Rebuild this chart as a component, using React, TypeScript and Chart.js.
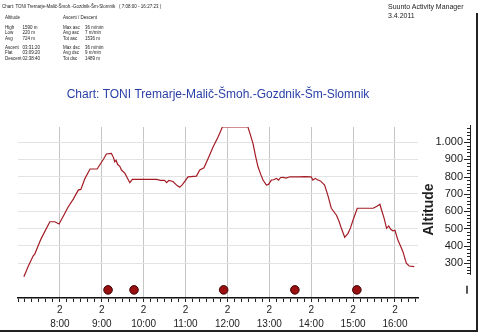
import React, { useEffect, useRef } from 'react';
import { Chart, registerables } from 'chart.js';

Chart.register(...registerables);

// ---- data (time in decimal hours, altitude in metres) ----
const TIME_H = [
  7.14, 7.25, 7.36, 7.40, 7.55, 7.76, 7.88, 7.98, 8.10, 8.20, 8.32, 8.44, 8.50, 8.60, 8.72, 8.89,
  9.00, 9.05, 9.11, 9.23, 9.28, 9.31, 9.34, 9.38, 9.43, 9.47, 9.55, 9.67, 9.73, 10.00, 10.31,
  10.40, 10.50, 10.55, 10.60, 10.70, 10.80, 10.86, 10.92, 11.00, 11.06, 11.26, 11.34, 11.44,
  11.55, 11.66, 11.78, 11.88, 11.95, 12.05, 12.15, 12.22, 12.32, 12.42, 12.49, 12.55, 12.61,
  12.67, 12.73, 12.80, 12.85, 12.93, 12.98, 13.05, 13.10, 13.17, 13.22, 13.27, 13.33, 13.40,
  13.49, 13.70, 13.85, 14.00, 14.04, 14.10, 14.15, 14.22, 14.32, 14.40, 14.48, 14.60, 14.66,
  14.72, 14.80, 14.88, 14.94, 15.00, 15.10, 15.30, 15.48, 15.58, 15.64, 15.68, 15.74, 15.80,
  15.85, 15.90, 15.95, 16.00, 16.07, 16.13, 16.19, 16.27, 16.34, 16.46,
];
const ALTITUDE_M = [
  221, 285, 341, 352, 440, 539, 539, 526, 580, 626, 670, 722, 726, 790, 844, 844,
  886, 905, 931, 935, 910, 886, 895, 870, 860, 838, 820, 765, 784, 784, 784,
  778, 778, 765, 778, 772, 748, 738, 752, 778, 799, 803, 838, 851,
  910, 973, 1030, 1088, 1200, 1380, 1530, 1590, 1450, 1250, 1088, 1040, 992,
  920, 857, 810, 780, 751, 755, 780, 782, 790, 780, 795, 796, 792,
  799, 799, 800, 799, 780, 790, 782, 775, 751, 690, 617, 578, 545,
  501, 449, 472, 505, 549, 617, 617, 617, 630, 640, 607, 560, 501,
  515, 495, 487, 490, 433, 400, 366, 299, 283, 279,
];
const LAP_MARKER_TIMES = [9.15, 9.77, 11.91, 13.61, 15.09];
const HOUR_TICKS = [8, 9, 10, 11, 12, 13, 14, 15, 16];
const DAY_LABEL = '2';
const ALT_TICKS = [300, 400, 500, 600, 700, 800, 900, 1000];

const TITLE = 'Chart: TONI Tremarje-Malič-Šmoh.-Gozdnik-Šm-Slomnik';
const TIME_RANGE = '( 7:08:00 - 16:27:23 )';
const APP_NAME = 'Suunto Activity Manager';
const DATE_TEXT = '3.4.2011';
const ALT_STATS = [['High', '1590 m'], ['Low', '220 m'], ['Avg', '724 m']];
const TIME_STATS = [['Ascent', '03:31:20'], ['Flat', '03:09:20'], ['Descent', '02:38:40']];
const ASC_STATS = [['Max asc', '36 m/min'], ['Avg asc', '7 m/min'], ['Tot asc', '1536 m']];
const DSC_STATS = [['Max dsc', '36 m/min'], ['Avg dsc', '9 m/min'], ['Tot dsc', '1489 m']];

// ---- view settings ----
const X_MIN = 7;
const X_MAX = 16.55;
const Y_MIN = 98;
const Y_MAX = 1087;
const MARKER_LEVEL = 145;
const FONT = '"Liberation Sans", Arial, Helvetica, sans-serif';
const LINE_RED = '#a31c25';

const fmtAlt = (v: number) =>
  v >= 1000 ? `${Math.floor(v / 1000)}.${String(v % 1000).padStart(3, '0')}` : String(v);
const isHour = (v: number) => Math.abs(v - Math.round(v)) < 1e-6 && HOUR_TICKS.includes(Math.round(v));

const rightAxisPlugin = {
  id: 'rightAltAxis',
  afterDraw(chart: any) {
    const { ctx, scales } = chart;
    const y = scales.y;
    const axisX = 470;
    ctx.save();
    ctx.strokeStyle = '#222';
    ctx.lineWidth = 1;
    ctx.beginPath();
    ctx.moveTo(axisX + 0.5, y.getPixelForValue(Y_MAX) - 2);
    ctx.lineTo(axisX + 0.5, y.getPixelForValue(232));
    ctx.stroke();
    for (let v = 240; v <= 1080; v += 20) {
      const py = Math.round(y.getPixelForValue(v)) + 0.5;
      const major = v % 100 === 0;
      ctx.beginPath();
      ctx.moveTo(axisX - (major ? 6 : 3), py);
      ctx.lineTo(axisX + 1, py);
      ctx.stroke();
    }
    ctx.fillStyle = '#222';
    ctx.font = `11px ${FONT}`;
    ctx.textAlign = 'right';
    ctx.textBaseline = 'middle';
    ALT_TICKS.forEach((v) => ctx.fillText(fmtAlt(v), axisX - 7, y.getPixelForValue(v)));
    // axis title
    ctx.save();
    ctx.translate(429, y.getPixelForValue(610));
    ctx.rotate(-Math.PI / 2);
    ctx.font = `bold 14px ${FONT}`;
    ctx.textAlign = 'center';
    ctx.textBaseline = 'middle';
    ctx.fillText('Altitude', 0, 0);
    ctx.restore();
    // lap marker legend stroke
    const my = y.getPixelForValue(MARKER_LEVEL);
    ctx.lineWidth = 1.5;
    ctx.beginPath();
    ctx.moveTo(467, my - 4);
    ctx.lineTo(467, my + 4);
    ctx.stroke();
    ctx.restore();
  },
};

export default function App() {
  const ref = useRef<HTMLCanvasElement | null>(null);

  useEffect(() => {
    document.body.style.margin = '0';
    const canvas = ref.current;
    if (!canvas) return;
    const chart = new Chart(canvas, {
      type: 'line',
      data: {
        datasets: [
          {
            data: TIME_H.map((t, i) => ({ x: t, y: Math.min(ALTITUDE_M[i], Y_MAX) })),
            borderColor: LINE_RED,
            borderWidth: 1.2,
            pointRadius: 0,
            tension: 0,
          },
          {
            data: LAP_MARKER_TIMES.map((t) => ({ x: t, y: MARKER_LEVEL })),
            showLine: false,
            pointRadius: 4.3,
            pointBackgroundColor: '#9a0f0f',
            pointBorderColor: '#3b0505',
            pointBorderWidth: 1,
          },
        ],
      },
      options: {
        animation: false,
        responsive: false,
        events: [],
        layout: { padding: { left: 18, right: 0, top: 0, bottom: 0 } },
        plugins: {
          legend: { display: false },
          tooltip: { enabled: false },
          title: {
            display: true,
            text: TITLE,
            fullSize: false,
            color: '#2a40a8',
            font: { family: FONT, size: 12, weight: 'normal' },
            padding: { top: 87, bottom: 25.6 },
          },
        },
        scales: {
          x: {
            type: 'linear',
            min: X_MIN,
            max: X_MAX,
            afterBuildTicks: (scale: any) => {
              const t: any[] = [];
              for (let m = X_MIN * 60; m <= 16.5 * 60 + 0.001; m += 10) t.push({ value: m / 60 });
              scale.ticks = t;
            },
            afterFit: (scale: any) => {
              scale.height = 35;
            },
            ticks: {
              autoSkip: false,
              maxRotation: 0,
              padding: 1,
              color: '#222',
              font: { family: FONT, size: 10, lineHeight: 1.4 },
              callback: (value: any) => {
                const v = Number(value);
                return isHour(v) ? [DAY_LABEL, `${Math.round(v)}:00`] : '';
              },
            },
            grid: {
              color: (c: any) => (c.tick && isHour(c.tick.value) ? '#c6c6c6' : 'rgba(0,0,0,0)'),
              tickColor: '#222',
              tickLength: 4,
              lineWidth: 1,
            },
            border: { display: true, color: '#111', width: 1.6 },
          },
          y: {
            type: 'linear',
            position: 'right',
            min: Y_MIN,
            max: Y_MAX,
            afterBuildTicks: (scale: any) => {
              scale.ticks = ALT_TICKS.map((v) => ({ value: v }));
            },
            afterFit: (scale: any) => {
              scale.width = 62;
            },
            ticks: { display: false },
            grid: { color: '#e3e3e3', drawTicks: false, lineWidth: 1 },
            border: { display: false },
          },
        },
      },
      plugins: [rightAxisPlugin],
    } as any);
    return () => chart.destroy();
  }, []);

  const small: React.CSSProperties = {
    position: 'absolute',
    fontFamily: FONT,
    fontSize: '4.5px',
    lineHeight: '5.3px',
    color: '#222',
    whiteSpace: 'pre',
  };
  const rows = (items: string[][], left: number, valLeft: number, top: number) =>
    items.map((r, i) => (
      <React.Fragment key={r[0]}>
        <div style={{ ...small, left, top: top + i * 5.3 }}>{r[0]}</div>
        <div style={{ ...small, left: valLeft, top: top + i * 5.3 }}>{r[1]}</div>
      </React.Fragment>
    ));

  return (
    <div style={{ position: 'relative', width: 480, height: 333, background: '#fff', overflow: 'hidden' }}>
      <canvas ref={ref} width={480} height={333} style={{ position: 'absolute', left: 0, top: 0, width: 480, height: 333 }} />
      <div style={{ ...small, left: 2, top: 4 }}>{`${TITLE}   ${TIME_RANGE}`}</div>
      <div style={{ ...small, left: 5, top: 14.5 }}>Altitude</div>
      <div style={{ ...small, left: 63, top: 14.5 }}>Ascent / Descent</div>
      {rows(ALT_STATS, 5, 22.5, 25)}
      {rows(TIME_STATS, 5, 22.5, 45)}
      {rows(ASC_STATS, 63, 85, 25)}
      {rows(DSC_STATS, 63, 85, 45)}
      <div style={{ position: 'absolute', left: 388, top: 2, fontFamily: FONT, fontSize: '7px', lineHeight: '9.3px', color: '#222', whiteSpace: 'pre' }}>
        {APP_NAME}
        <br />
        {DATE_TEXT}
      </div>
      <div style={{ position: 'absolute', left: 476, top: 13, width: 2, height: 319, background: '#222' }} />
      <div style={{ position: 'absolute', left: 0, top: 330, width: 478, height: 2, background: '#222' }} />
    </div>
  );
}
